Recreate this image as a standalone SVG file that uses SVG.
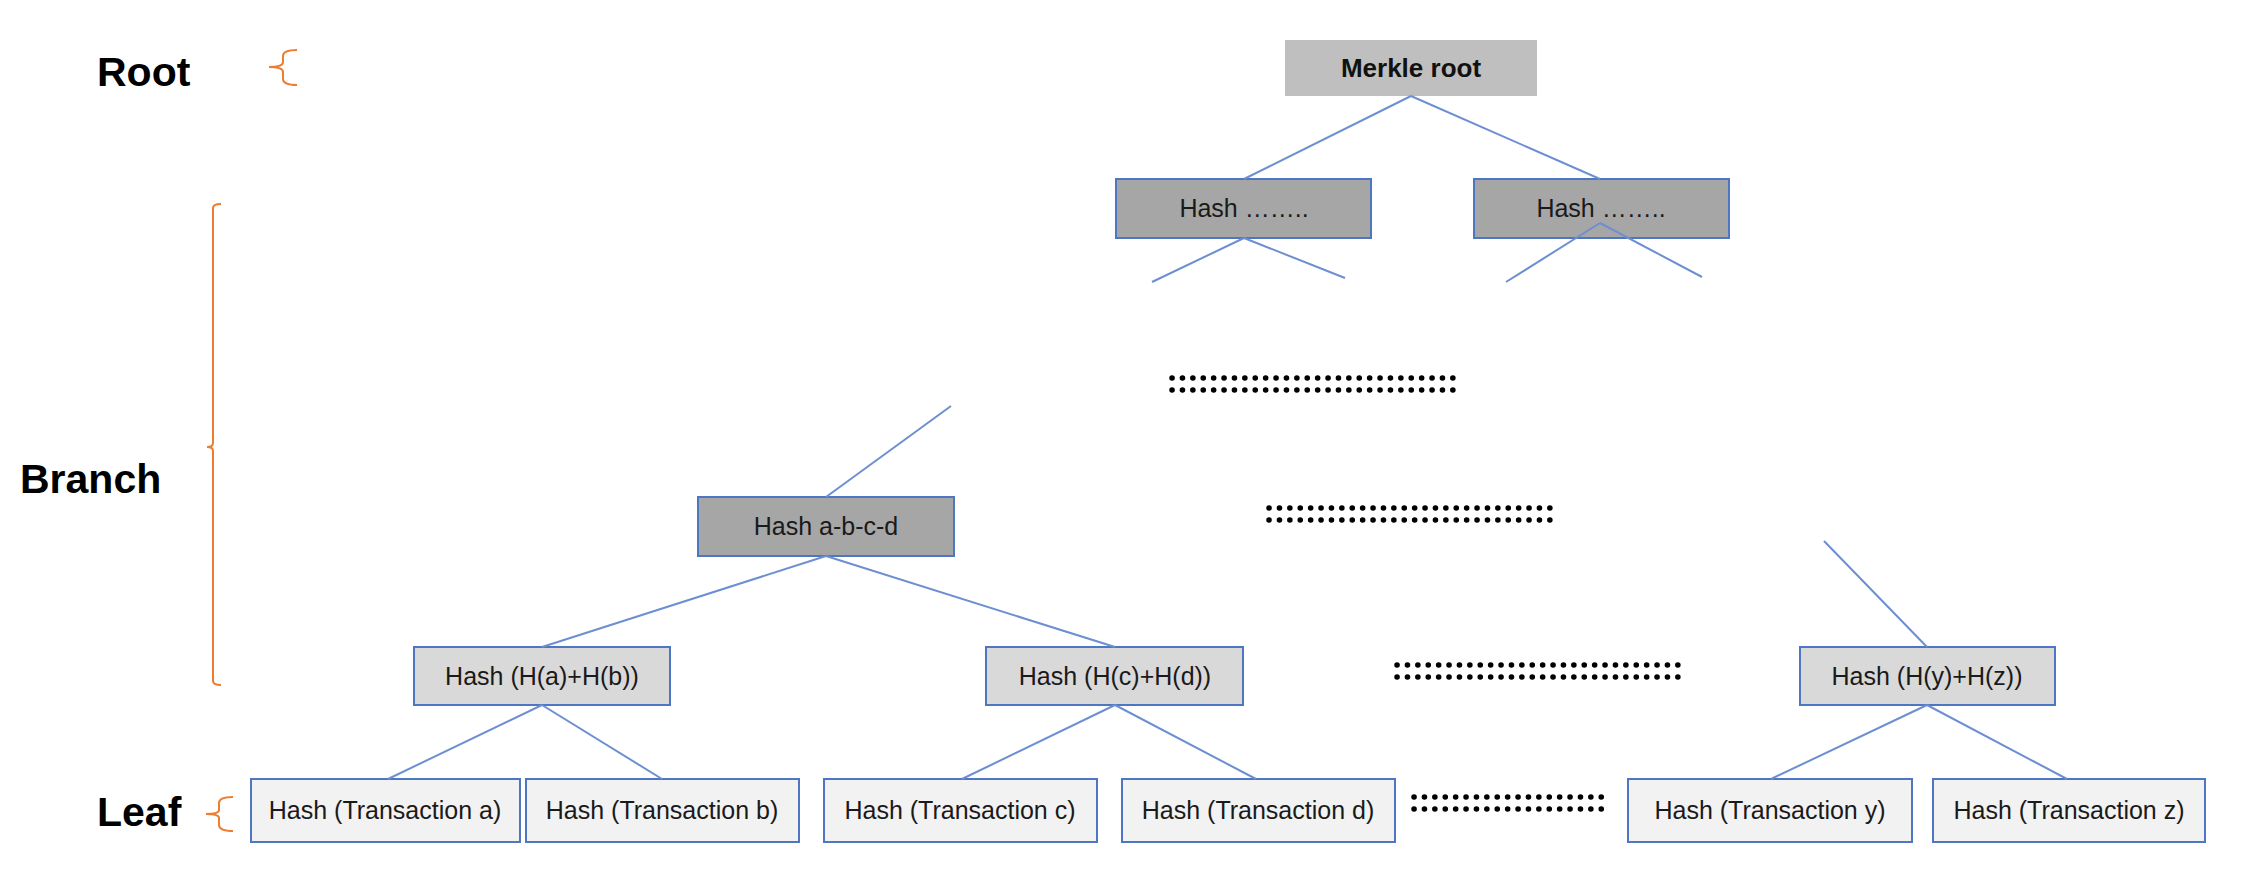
<svg xmlns="http://www.w3.org/2000/svg" width="2248" height="872" viewBox="0 0 2248 872">
<style>
.lbl{font-family:"Liberation Sans",Arial,sans-serif;font-weight:bold;font-size:41px;fill:#000}
.t{font-family:"Liberation Sans",Arial,sans-serif;font-size:25px;fill:#1a1a1a;text-anchor:middle}
.tb{font-family:"Liberation Sans",Arial,sans-serif;font-size:26px;font-weight:bold;fill:#111;text-anchor:middle}
.root{fill:#bfbfbf}
.n2{fill:#a6a6a6;stroke:#4f76c2;stroke-width:2}
.n3{fill:#d9d9d9;stroke:#4f76c2;stroke-width:2}
.leaf{fill:#f2f2f2;stroke:#4f76c2;stroke-width:2}
.c{stroke:#6d8fd2;stroke-width:2;fill:none}
.br{stroke:#ed7d31;stroke-width:2;fill:none}
.dots{stroke:#000;stroke-width:5.5;stroke-linecap:round;stroke-dasharray:0.1 10.3}
</style>
<rect width="2248" height="872" fill="#fff"/>
<g id="labels">
<text class="lbl" x="97" y="86">Root</text>
<text class="lbl" x="20" y="493">Branch</text>
<text class="lbl" x="97" y="826">Leaf</text>
</g>
<g id="brackets">
<path class="br" d="M297,50 Q283,50 283,56 L283,62 Q283,67 269,67 Q283,67 283,72 L283,79 Q283,85 297,85"/>
<path class="br" d="M221,204 Q213,204 213,208 V443 Q213,447 207,447 Q213,447 213,451 V681 Q213,685 221,685"/>
<path class="br" d="M233,797 Q219,797 219,803 V810 Q219,814 206,814 Q219,814 219,818 V825 Q219,831 233,831"/>
</g>
<g id="ellipses">
<line class="dots" x1="1172" y1="378" x2="1460" y2="378"/>
<line class="dots" x1="1172" y1="390" x2="1460" y2="390"/>
<line class="dots" x1="1269" y1="508" x2="1557" y2="508"/>
<line class="dots" x1="1269" y1="520" x2="1557" y2="520"/>
<line class="dots" x1="1397" y1="665" x2="1685" y2="665"/>
<line class="dots" x1="1397" y1="677" x2="1685" y2="677"/>
<line class="dots" x1="1414" y1="797" x2="1609" y2="797"/>
<line class="dots" x1="1414" y1="809" x2="1609" y2="809"/>
</g>
<g id="merkle-root">
<rect class="root" x="1285" y="40" width="252" height="56"/>
<text class="tb" x="1411" y="77">Merkle root</text>
</g>
<g id="hash-left">
<rect class="n2" x="1116" y="179" width="255" height="59"/>
<text class="t" x="1244" y="217">Hash ……..</text>
</g>
<g id="hash-right">
<rect class="n2" x="1474" y="179" width="255" height="59"/>
<text class="t" x="1601" y="217">Hash ……..</text>
</g>
<g id="hash-abcd">
<rect class="n2" x="698" y="497" width="256" height="59"/>
<text class="t" x="826" y="535">Hash a-b-c-d</text>
</g>
<g id="hash-ab">
<rect class="n3" x="414" y="647" width="256" height="58"/>
<text class="t" x="542" y="685">Hash (H(a)+H(b))</text>
</g>
<g id="hash-cd">
<rect class="n3" x="986" y="647" width="257" height="58"/>
<text class="t" x="1115" y="685">Hash (H(c)+H(d))</text>
</g>
<g id="hash-yz">
<rect class="n3" x="1800" y="647" width="255" height="58"/>
<text class="t" x="1927" y="685">Hash (H(y)+H(z))</text>
</g>
<g id="leaf-a">
<rect class="leaf" x="251" y="779" width="269" height="63"/>
<text class="t" x="385" y="819">Hash (Transaction a)</text>
</g>
<g id="leaf-b">
<rect class="leaf" x="526" y="779" width="273" height="63"/>
<text class="t" x="662" y="819">Hash (Transaction b)</text>
</g>
<g id="leaf-c">
<rect class="leaf" x="824" y="779" width="273" height="63"/>
<text class="t" x="960" y="819">Hash (Transaction c)</text>
</g>
<g id="leaf-d">
<rect class="leaf" x="1122" y="779" width="273" height="63"/>
<text class="t" x="1258" y="819">Hash (Transaction d)</text>
</g>
<g id="leaf-y">
<rect class="leaf" x="1628" y="779" width="284" height="63"/>
<text class="t" x="1770" y="819">Hash (Transaction y)</text>
</g>
<g id="leaf-z">
<rect class="leaf" x="1933" y="779" width="272" height="63"/>
<text class="t" x="2069" y="819">Hash (Transaction z)</text>
</g>
<g id="connectors">
<line class="c" x1="1411" y1="96" x2="1244" y2="179"/>
<line class="c" x1="1411" y1="96" x2="1600" y2="179"/>
<line class="c" x1="1244" y1="238" x2="1152" y2="282"/>
<line class="c" x1="1244" y1="238" x2="1345" y2="278"/>
<line class="c" x1="1600" y1="223" x2="1506" y2="282"/>
<line class="c" x1="1600" y1="223" x2="1702" y2="277"/>
<line class="c" x1="826" y1="497" x2="951" y2="406"/>
<line class="c" x1="826" y1="556" x2="542" y2="647"/>
<line class="c" x1="826" y1="556" x2="1115" y2="647"/>
<line class="c" x1="1927" y1="647" x2="1824" y2="541"/>
<line class="c" x1="542" y1="705" x2="388" y2="779"/>
<line class="c" x1="542" y1="705" x2="662" y2="779"/>
<line class="c" x1="1115" y1="705" x2="962" y2="779"/>
<line class="c" x1="1115" y1="705" x2="1256" y2="779"/>
<line class="c" x1="1927" y1="705" x2="1771" y2="779"/>
<line class="c" x1="1927" y1="705" x2="2067" y2="779"/>
</g>
</svg>
